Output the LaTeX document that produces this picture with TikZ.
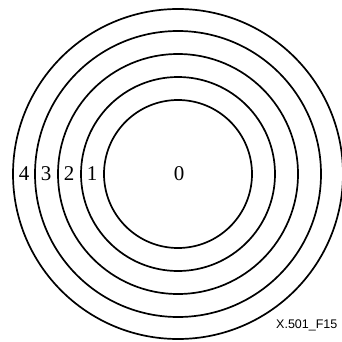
\documentclass[tikz,border=0pt]{standalone}
\usepackage{fontspec}
\setmainfont{Liberation Serif}
\newfontfamily\labelsans{Liberation Sans}
\usepackage{tikz}
\usetikzlibrary{positioning}

\begin{document}
\begin{tikzpicture}[
    x=1pt, y=-1pt,
    ring/.style={draw, line width=1.7pt},
    ringlabel/.style={font=\fontsize{21}{21}\selectfont, inner sep=0pt},
    tag/.style={font=\labelsans\fontsize{12.5}{12.5}\selectfont, inner sep=0pt, anchor=west}
]
\useasboundingbox (0,0) rectangle (341,342);

% rings
\foreach \r in {74,97,120,143,165}
    \draw[ring] (178,174) circle (\r);

% labels
\node[ringlabel] (zero) at (179,174) {0};
\node[ringlabel] (one) at (92,174) {1};
\node[ringlabel] (two) at (69,174) {2};
\node[ringlabel] (three) at (46,174) {3};
\node[ringlabel] (four) at (24,174) {4};

\node[tag] (figid) at (276,325) {X.501\_F15};

\end{tikzpicture}
\end{document}
